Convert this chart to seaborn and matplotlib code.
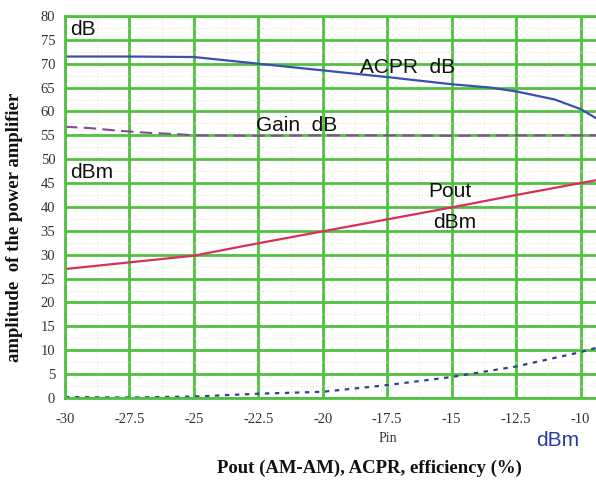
import numpy as np
import pandas as pd
import seaborn as sns
import matplotlib.pyplot as plt
from matplotlib.ticker import MultipleLocator

# Data (Pin in dBm)
pin_acpr = [-30, -27.5, -25, -22.5, -20, -17.5, -15, -13.5, -12.5, -11, -10, -9.4]
acpr = [71.5, 71.5, 71.4, 70.0, 68.6, 67.2, 65.7, 65.0, 64.2, 62.5, 60.5, 58.6]

pin_gain = [-30, -29, -28, -27, -25.5, -25, -22.5, -20, -17.5, -15, -12.5, -10, -9.4]
gain = [56.8, 56.5, 56.0, 55.6, 55.2, 55.0, 54.9, 55.0, 55.0, 54.9, 55.0, 55.0, 55.0]

pin_pout = [-30, -27.5, -25, -22.5, -20, -17.5, -15, -12.5, -10, -9.4]
pout = [27.0, 28.4, 29.8, 32.4, 34.9, 37.4, 39.9, 42.5, 45.0, 45.6]

pin_eff = [-30, -27.5, -25, -22.5, -20, -17.5, -15, -12.5, -10, -9.4]
eff = [0.2, 0.1, 0.3, 0.9, 1.3, 2.7, 4.4, 6.6, 9.6, 10.5]

xticks = [-30, -27.5, -25, -22.5, -20, -17.5, -15, -12.5, -10]
xtick_labels = ['-30', '-27.5', '-25', '-22.5', '-20', '-17.5', '-15', '-12.5', '-10']

sns.set_style('white')
fig = plt.figure(figsize=(5.96, 4.83), dpi=100)
ax = fig.add_axes([0.109, 0.176, 0.891, 0.791])

# Grid
ax.xaxis.set_major_locator(MultipleLocator(2.5))
ax.yaxis.set_major_locator(MultipleLocator(5))
ax.xaxis.set_minor_locator(MultipleLocator(1.25))
ax.yaxis.set_minor_locator(MultipleLocator(2.5))
ax.grid(which='major', color='#52c040', linewidth=2.0, zorder=0)
ax.grid(which='minor', color='#eee6c8', linewidth=0.8, linestyle=':', zorder=0)
ax.set_axisbelow(True)

sns.lineplot(x=pin_acpr, y=acpr, ax=ax, color='#3a4fb0', linewidth=1.6)
sns.lineplot(x=pin_gain, y=gain, ax=ax, color='#8a4a98', linewidth=1.5, linestyle=(0, (6, 3)))
sns.lineplot(x=pin_pout, y=pout, ax=ax, color='#d8305a', linewidth=1.6)
sns.lineplot(x=pin_eff, y=eff, ax=ax, color='#2e3f9a', linewidth=1.6, linestyle=(0, (2, 2.5)))

ax.set_xlim(-30, -9.4)
ax.set_ylim(0, 80)
ax.set_xticks(xticks)
ax.set_xticklabels(xtick_labels)
ax.tick_params(axis='both', which='both', length=0, labelsize=10.5, labelcolor='#333333')
ax.tick_params(axis='x', pad=11)
ax.tick_params(axis='y', pad=7)
for lbl in ax.get_xticklabels() + ax.get_yticklabels():
    lbl.set_family('Liberation Serif')

for side in ['top', 'left', 'bottom']:
    ax.spines[side].set_color('#52c040')
    ax.spines[side].set_linewidth(2.0)
ax.spines['right'].set_visible(False)

# In-plot annotations
txt = dict(fontsize=15, color='#111111', family='Liberation Sans')
ax.text(-29.8, 76.0, 'dB', **txt)
ax.text(-18.55, 68.0, 'ACPR  dB', **txt)
ax.text(-22.6, 56.0, 'Gain  dB', **txt)
ax.text(-29.8, 46.0, 'dBm', **txt)
ax.text(-15.9, 42.0, 'Pout', **txt)
ax.text(-15.7, 35.5, 'dBm', **txt)

ax.set_xlabel('')
ax.set_ylabel('')
fig.text(0.65, 0.084, 'Pin', fontsize=10, family='Liberation Serif', color='#333333', ha='center')
fig.text(0.935, 0.089, 'dBm', fontsize=15, family='Liberation Sans', color='#2b3b9c',
         ha='center', va='center')
fig.text(0.62, 0.031, 'Pout (AM-AM), ACPR, efficiency (%)', fontsize=13.5, fontweight='bold',
         family='Liberation Serif', ha='center', va='center', color='#111111')
fig.text(0.025, 0.53, 'amplitude  of the power amplifier', fontsize=13.5, fontweight='bold',
         family='Liberation Serif', rotation=90, ha='center', va='center', color='#111111')

plt.savefig('out.png', dpi=100)
